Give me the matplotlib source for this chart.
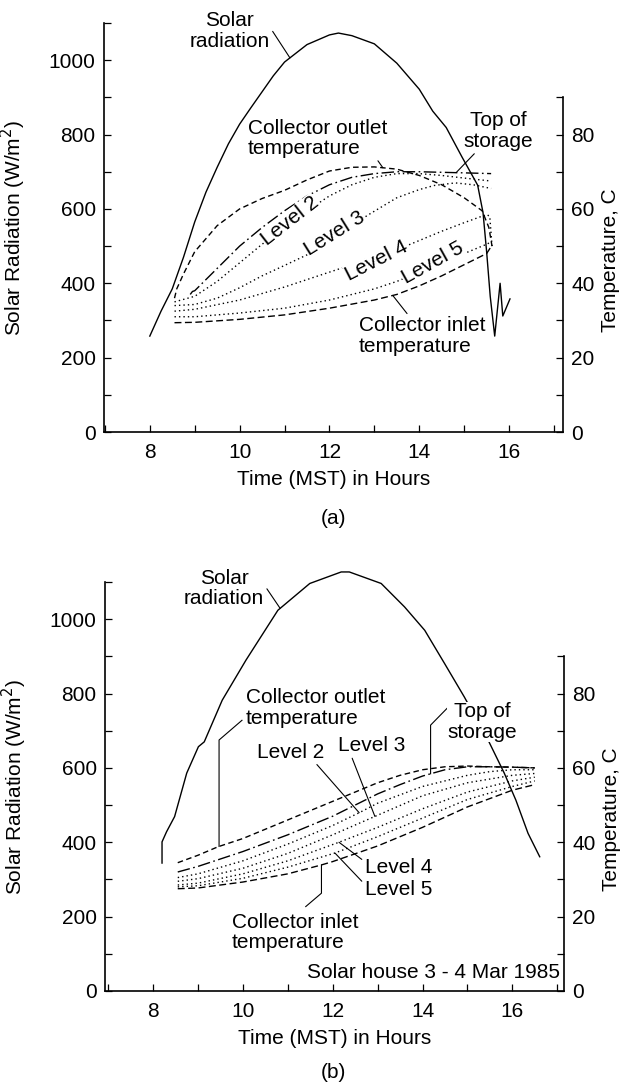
import numpy as np
import matplotlib
matplotlib.use("Agg")
import matplotlib.pyplot as plt
from matplotlib.ticker import MultipleLocator, FixedLocator

plt.rcParams["font.family"] = ["Liberation Sans", "DejaVu Sans"]
FS = 15

# ---------------- panel (a) data ----------------
sun_a_t = [8.0, 8.25, 8.5, 8.75, 9.0, 9.25, 9.5, 9.75, 10.0, 10.25, 10.5, 10.75, 11.0,
           11.5, 12.0, 12.2, 12.5, 13.0, 13.5, 14.0, 14.3, 14.6, 14.95, 15.3, 15.42,
           15.5, 15.58, 15.68, 15.8, 15.86, 16.02]
sun_a_w = [258, 325, 385, 470, 565, 645, 712, 775, 828, 872, 915, 958, 995,
           1042, 1068, 1073, 1066, 1044, 992, 922, 863, 819, 740, 664, 590,
           485, 365, 258, 400, 312, 358]

out_a_t = [8.55, 8.6, 8.75, 9.0, 9.5, 10.0, 10.5, 11.0, 11.5, 12.0, 12.5, 13.0, 13.5,
           14.0, 14.5, 15.0, 15.4, 15.55, 15.62]
out_a_c = [36.0, 38.5, 42.5, 48.5, 55.5, 60.0, 62.8, 65.0, 67.8, 70.2, 71.2, 71.3, 70.7,
           69.0, 66.5, 63.0, 59.5, 55.0, 50.0]

top_a_t = [8.9, 8.95, 9.0, 9.5, 10.0, 10.5, 11.0, 11.5, 12.0, 12.5, 13.0, 13.5, 14.0,
           15.0, 15.6]
top_a_c = [37.0, 37.8, 38.0, 44.0, 50.0, 55.0, 59.5, 63.5, 66.5, 68.5, 69.5, 70.0, 70.0,
           69.7, 69.5]

lv2_a_t = [8.55, 9.0, 9.5, 10.0, 10.5, 11.0, 11.5, 12.0, 12.5, 13.0, 13.5, 14.0, 14.5,
           15.0, 15.6]
lv2_a_c = [35.0, 36.5, 40.5, 45.5, 50.5, 55.0, 59.5, 63.5, 66.5, 68.5, 69.5, 69.5, 69.0,
           68.3, 67.5]

lv3_a_t = [8.55, 9.0, 9.5, 10.0, 10.5, 11.0, 11.65, 12.0, 12.5, 12.85, 13.5, 14.0, 14.33,
           14.8, 15.2, 15.6]
lv3_a_c = [34.0, 34.3, 36.0, 38.8, 42.0, 44.8, 48.5, 51.5, 55.5, 58.3, 63.0, 65.2, 66.3,
           67.0, 66.5, 65.5]

lv4_a_t = [8.55, 9.0, 10.0, 11.0, 12.0, 13.0, 13.6, 14.0, 14.5, 15.0, 15.5, 15.57, 15.62]
lv4_a_c = [32.5, 33.0, 35.5, 39.0, 43.0, 47.0, 49.5, 51.5, 54.0, 56.3, 58.5, 58.0, 50.0]

lv5_a_t = [8.55, 9.0, 10.0, 11.0, 12.0, 13.0, 13.5, 14.0, 14.5, 15.0, 15.5, 15.58]
lv5_a_c = [31.0, 31.0, 32.0, 33.3, 35.5, 38.5, 40.5, 43.0, 45.5, 48.0, 50.5, 51.0]

inl_a_t = [8.55, 9.0, 10.0, 11.0, 12.0, 13.0, 13.5, 14.0, 14.5, 15.0, 15.5, 15.58]
inl_a_c = [29.4, 29.5, 30.3, 31.5, 33.3, 35.5, 37.0, 39.3, 42.0, 45.0, 48.0, 49.5]

# ---------------- panel (b) data ----------------
sun_b_t = [8.2, 8.2, 8.3, 8.48, 8.75, 9.01, 9.14, 9.54, 10.07, 10.78, 11.49, 12.19,
           12.37, 13.08, 13.6, 14.05, 14.49, 14.93, 15.46, 15.82, 16.08, 16.35, 16.61]
sun_b_w = [344, 401, 428, 469, 586, 657, 670, 782, 890, 1024, 1096, 1127,
           1127, 1096, 1033, 970, 881, 791, 675, 586, 513, 424, 361]

out_b_t = [8.55, 9.0, 9.45, 10.0, 10.5, 11.0, 11.5, 12.0, 12.5, 13.0, 13.5, 14.0, 14.5,
           15.0, 15.5, 16.0, 16.5]
out_b_c = [34.5, 36.5, 38.8, 41.0, 43.5, 46.0, 48.5, 51.0, 53.5, 56.0, 58.0, 59.5, 60.3,
           60.5, 60.3, 60.2, 60.0]

top_b_t = [8.55, 9.0, 10.0, 11.0, 12.0, 12.5, 13.0, 13.5, 14.0, 14.5, 15.0, 15.5, 16.0, 16.5]
top_b_c = [32.0, 33.5, 37.5, 42.0, 47.0, 50.0, 53.0, 55.5, 57.8, 59.5, 60.3, 60.3, 60.2, 60.0]

lv2_b_t = [8.55, 9.0, 10.0, 11.0, 12.0, 12.6, 13.0, 14.0, 15.0, 15.5, 16.0, 16.5]
lv2_b_c = [30.5, 31.5, 35.0, 39.5, 44.5, 48.0, 50.5, 55.0, 58.0, 59.0, 59.5, 59.5]

lv3_b_t = [8.55, 9.0, 10.0, 11.0, 12.0, 12.95, 14.0, 15.0, 16.0, 16.5]
lv3_b_c = [29.5, 30.2, 33.0, 37.0, 42.0, 47.0, 52.5, 56.0, 58.0, 58.5]

lv4_b_t = [8.55, 9.0, 10.0, 11.0, 12.14, 13.0, 14.0, 15.0, 16.0, 16.5]
lv4_b_c = [28.5, 29.0, 31.5, 35.0, 40.0, 44.0, 49.0, 53.5, 56.5, 57.5]

lv5_b_t = [8.55, 9.0, 10.0, 11.0, 12.05, 13.0, 14.0, 15.0, 16.0, 16.5]
lv5_b_c = [28.0, 28.3, 30.3, 33.3, 37.1, 41.5, 46.5, 51.5, 55.0, 56.5]

inl_b_t = [8.55, 9.0, 10.0, 11.0, 11.75, 12.0, 13.0, 14.0, 15.0, 16.0, 16.5]
inl_b_c = [27.5, 27.7, 29.3, 31.5, 33.9, 34.8, 39.0, 44.0, 49.5, 54.0, 55.5]

# line styles
DASH_OUT = (0, (4, 2.5))
DASH_TOP = (0, (9, 2.5, 1.2, 2.5))
DOT = (0, (1.0, 2.2))
DASH_IN = (0, (5, 2.5))
LEADER = dict(arrowstyle="-", color="black", lw=0.8, shrinkA=0, shrinkB=0)


def setup_axes(fig, rect, xlim):
    ax = fig.add_axes(rect)
    ax.set_xlim(*xlim)
    ax.set_ylim(0, 1100)
    ax.spines["top"].set_visible(False)
    ax.spines["right"].set_visible(False)
    for s in ["left", "bottom"]:
        ax.spines[s].set_linewidth(1.2)
    ax.xaxis.set_major_locator(FixedLocator([8, 10, 12, 14, 16]))
    ax.xaxis.set_minor_locator(MultipleLocator(1))
    ax.yaxis.set_major_locator(MultipleLocator(200))
    ax.yaxis.set_minor_locator(MultipleLocator(100))
    ax.tick_params(which="both", direction="in", length=5, width=0.9,
                   labelsize=FS, top=False, right=False)
    ax.tick_params(axis="x", pad=8)
    ax.tick_params(axis="y", pad=6)
    ax.set_xlabel("Time (MST) in Hours", fontsize=FS, labelpad=6)
    ax.set_ylabel("Solar Radiation (W/m$^2$)", fontsize=FS)
    ax.yaxis.set_label_coords(-0.165, 0.5)

    tx = ax.twinx()
    tx.set_ylim(0, 110)
    for s in ["left", "top", "bottom"]:
        tx.spines[s].set_visible(False)
    tx.spines["right"].set_bounds(0, 90)
    tx.spines["right"].set_linewidth(1.2)
    tx.yaxis.set_major_locator(FixedLocator([0, 20, 40, 60, 80]))
    tx.yaxis.set_minor_locator(FixedLocator([10, 30, 50, 70, 90]))
    tx.tick_params(which="both", direction="in", length=5, width=0.9,
                   labelsize=FS, pad=6)
    tx.set_ylabel("Temperature, C", fontsize=FS)
    tx.yaxis.set_label_coords(1.082, 0.42)
    return ax, tx


def draw_temps(tx, series):
    for t, c, ls in series:
        tx.plot(t, c, color="black", lw=1.0, linestyle=ls)


def level_label(tx, text, x, y, rot):
    tx.text(x, y, text, fontsize=FS, rotation=rot, ha="center", va="center",
            rotation_mode="anchor",
            bbox=dict(facecolor="white", edgecolor="none", pad=0.3), zorder=5)


fig = plt.figure(figsize=(6.22, 10.86), dpi=100)

# ================= (a) =================
ax, tx = setup_axes(fig, [0.1672, 0.6022, 0.7379, 0.3766], (6.98, 17.2))
ax.plot(sun_a_t, sun_a_w, color="black", lw=1.0, clip_on=False)
draw_temps(tx, [
    (out_a_t, out_a_c, DASH_OUT),
    (top_a_t, top_a_c, DASH_TOP),
    (lv2_a_t, lv2_a_c, DOT),
    (lv3_a_t, lv3_a_c, DOT),
    (lv4_a_t, lv4_a_c, DOT),
    (lv5_a_t, lv5_a_c, DOT),
    (inl_a_t, inl_a_c, DASH_IN),
])

ax.annotate("Solar\nradiation", xy=(11.12, np.interp(11.12, sun_a_t, sun_a_w)),
            xytext=(9.78, 1079), fontsize=FS, ha="center", va="center",
            linespacing=1.1, annotation_clip=False,
            arrowprops=dict(LEADER, relpos=(0.95, 0.75)))
tx.annotate("Collector outlet\ntemperature", xy=(13.19, np.interp(13.19, out_a_t, out_a_c)),
            xytext=(10.18, 79), fontsize=FS, ha="left", va="center", linespacing=1.1,
            arrowprops=dict(LEADER, relpos=(0.88, 0.2)))
tx.annotate("Top of\nstorage", xy=(14.82, np.interp(14.82, top_a_t, top_a_c)),
            xytext=(15.75, 80.9), fontsize=FS, ha="center", va="center", linespacing=1.1,
            arrowprops=dict(LEADER, relpos=(0.2, 0.0)))
tx.annotate("Collector inlet\ntemperature", xy=(13.41, np.interp(13.41, inl_a_t, inl_a_c)),
            xytext=(12.65, 25.8), fontsize=FS, ha="left", va="center", linespacing=1.1,
            arrowprops=dict(LEADER, relpos=(0.4, 1.0)))
level_label(tx, "Level 2", 11.12, 56.8, 38)
level_label(tx, "Level 3", 12.12, 53.3, 32)
level_label(tx, "Level 4", 13.05, 46.1, 27)
level_label(tx, "Level 5", 14.3, 45.4, 29)
fig.text(333 / 622, 1 - 518 / 1086, "(a)", fontsize=FS, ha="center", va="center")

# ================= (b) =================
ax, tx = setup_axes(fig, [0.1688, 0.0875, 0.7379, 0.3766], (6.93, 17.15))
ax.plot(sun_b_t, sun_b_w, color="black", lw=1.0, clip_on=False)
draw_temps(tx, [
    (out_b_t, out_b_c, DASH_OUT),
    (top_b_t, top_b_c, DASH_TOP),
    (lv2_b_t, lv2_b_c, DOT),
    (lv3_b_t, lv3_b_c, DOT),
    (lv4_b_t, lv4_b_c, DOT),
    (lv5_b_t, lv5_b_c, DOT),
    (inl_b_t, inl_b_c, DASH_IN),
])

ax.annotate("Solar\nradiation", xy=(10.83, np.interp(10.83, sun_b_t, sun_b_w)),
            xytext=(9.58, 1082), fontsize=FS, ha="center", va="center",
            linespacing=1.1, annotation_clip=False,
            arrowprops=dict(LEADER, relpos=(0.95, 0.75)))

# collector outlet: text, diagonal then vertical leader
tip = np.interp(9.47, out_b_t, out_b_c)
tx.text(10.07, 76.1, "Collector outlet\ntemperature", fontsize=FS, ha="left",
        va="center", linespacing=1.1)
tx.plot([9.98, 9.47, 9.47], [72.8, 67.5, tip], color="black", lw=0.8)

tip = np.interp(14.18, top_b_t, top_b_c)
tx.text(15.33, 72.4, "Top of\nstorage", fontsize=FS, ha="center", va="center",
        linespacing=1.1, zorder=5,
        bbox=dict(facecolor="white", edgecolor="none", pad=0.2))
tx.plot([14.57, 14.18, 14.18], [76.3, 71.5, tip], color="black", lw=0.8)

tx.annotate("Level 2", xy=(12.59, np.interp(12.59, lv2_b_t, lv2_b_c)),
            xytext=(11.07, 64.2), fontsize=FS, ha="center", va="center",
            arrowprops=dict(LEADER, relpos=(0.85, 0.0)))
tx.annotate("Level 3", xy=(12.94, np.interp(12.94, lv3_b_t, lv3_b_c)),
            xytext=(12.86, 65.9), fontsize=FS, ha="center", va="center",
            arrowprops=dict(LEADER, relpos=(0.2, 0.0)))
tx.annotate("Level 4", xy=(12.14, np.interp(12.14, lv4_b_t, lv4_b_c)),
            xytext=(13.46, 33.3), fontsize=FS, ha="center", va="center",
            arrowprops=dict(LEADER, relpos=(0.0, 0.8)))
tx.annotate("Level 5", xy=(12.05, np.interp(12.05, lv5_b_t, lv5_b_c)),
            xytext=(13.46, 27.2), fontsize=FS, ha="center", va="center",
            arrowprops=dict(LEADER, relpos=(0.0, 0.8)))

tip = np.interp(11.75, inl_b_t, inl_b_c)
tx.text(9.76, 15.7, "Collector inlet\ntemperature", fontsize=FS, ha="left",
        va="center", linespacing=1.1)
tx.plot([11.4, 11.75, 11.75], [22.7, 26.3, tip], color="black", lw=0.8)

ax.text(0.991, 0.046, "Solar house 3 - 4 Mar 1985", transform=ax.transAxes,
        fontsize=FS, ha="right", va="center")
fig.text(333 / 622, 1 - 1073 / 1086, "(b)", fontsize=FS, ha="center", va="center")

fig.savefig("out.png", dpi=100)
